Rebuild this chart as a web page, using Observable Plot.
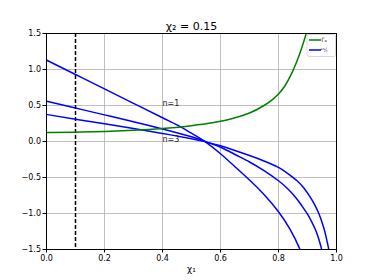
<!DOCTYPE html>
<html><head><meta charset="utf-8">
<script src="https://cdn.jsdelivr.net/npm/d3@7"></script>
<script src="https://cdn.jsdelivr.net/npm/@observablehq/plot@0.6"></script>
<style>body{margin:0;background:#fff;font-family:"DejaVu Sans",sans-serif}</style>
</head><body><div id="chart"></div>
<script>
const titleText = "χ₂ = 0.15";
const xLabel = "χ₁";
const xTicks = [0, 0.2, 0.4, 0.6, 0.8, 1.0];
const yTicks = [-1.5, -1.0, -0.5, 0.0, 0.5, 1.0, 1.5];
const dashedX = [0.1];

const greenX = [0, 0.1, 0.2, 0.3, 0.4, 0.5, 0.55, 0.6, 0.65, 0.7, 0.75, 0.78, 0.8, 0.82, 0.84, 0.86, 0.88, 0.9, 0.91];
const greenY = [0.125, 0.13, 0.14, 0.155, 0.18, 0.22, 0.245, 0.28, 0.33, 0.395, 0.5, 0.585, 0.66, 0.76, 0.9, 1.08, 1.3, 1.56, 1.72];

const n1X = [0, 0.1, 0.2, 0.3, 0.4, 0.45, 0.5, 0.548, 0.6, 0.65, 0.7, 0.75, 0.8, 0.84, 0.871, 0.89];
const n1Y = [1.13, 0.93, 0.73, 0.53, 0.33, 0.23, 0.115, -0.005, -0.17, -0.35, -0.535, -0.735, -0.975, -1.22, -1.47, -1.67];
const n2X = [0, 0.1, 0.2, 0.3, 0.4, 0.5, 0.55, 0.6, 0.65, 0.7, 0.75, 0.8, 0.83, 0.86, 0.88, 0.9, 0.915, 0.93, 0.94, 0.947, 0.955];
const n2Y = [0.56, 0.465, 0.37, 0.275, 0.175, 0.065, -0.005, -0.08, -0.18, -0.285, -0.405, -0.545, -0.65, -0.78, -0.89, -1.01, -1.12, -1.25, -1.37, -1.47, -1.62];
const n3X = [0, 0.1, 0.2, 0.3, 0.4, 0.5, 0.55, 0.6, 0.65, 0.7, 0.75, 0.8, 0.832, 0.864, 0.888, 0.91, 0.925, 0.939, 0.95, 0.959, 0.966, 0.972, 0.98];
const n3Y = [0.376, 0.31, 0.245, 0.18, 0.112, 0.038, -0.005, -0.06, -0.125, -0.195, -0.27, -0.36, -0.445, -0.545, -0.65, -0.775, -0.88, -1.0, -1.12, -1.24, -1.36, -1.47, -1.65];

const labels = [{x: 0.4, y: 0.5, t: "n=1"}, {x: 0.4, y: 0.0, t: "n=3"}];

const green = greenX.map((x, i) => ({x, y: greenY[i]}));
const blue = [
  ...n1X.map((x, i) => ({x, y: n1Y[i], n: 1})),
  ...n2X.map((x, i) => ({x, y: n2Y[i], n: 2})),
  ...n3X.map((x, i) => ({x, y: n3Y[i], n: 3}))
];

const plot = Plot.plot({
  width: 374, height: 280,
  marginLeft: 46, marginRight: 38, marginTop: 33, marginBottom: 31,
  style: {fontFamily: "DejaVu Sans", fontSize: "8px", color: "#000", background: "#fff"},
  x: {domain: [0, 1], ticks: xTicks, tickFormat: d3.format(".1f"), label: null},
  y: {domain: [-1.5, 1.5], ticks: yTicks, tickFormat: d3.format(".1f"), label: null},
  marks: [
    Plot.gridX(xTicks, {stroke: "#b0b0b0", strokeOpacity: 1, strokeWidth: 0.8}),
    Plot.gridY(yTicks, {stroke: "#b0b0b0", strokeOpacity: 1, strokeWidth: 0.8}),
    Plot.ruleX(dashedX, {stroke: "black", strokeWidth: 1.5, strokeDasharray: "4,2"}),
    Plot.line(blue, {x: "x", y: "y", z: "n", stroke: "blue", strokeWidth: 1.5, curve: "natural", clip: true}),
    Plot.line(green, {x: "x", y: "y", stroke: "green", strokeWidth: 1.5, curve: "natural", clip: true}),
    Plot.text(labels, {x: "x", y: "y", text: "t", textAnchor: "start", lineAnchor: "bottom", fontSize: 8, fill: "#222"}),
    Plot.frame({stroke: "black", strokeWidth: 1}),
    Plot.axisX(xTicks, {tickSize: 3.5, tickPadding: 2, fontSize: 8, label: null, tickFormat: d3.format(".1f")}),
    Plot.axisY(yTicks, {tickSize: 3.5, tickPadding: 2, fontSize: 8, label: null, tickFormat: d3.format(".1f")}),
    Plot.text([titleText], {frameAnchor: "top", lineAnchor: "bottom", dy: -4, fontSize: 11, fill: "#000"}),
    Plot.text([xLabel], {frameAnchor: "bottom", dy: 22, fontSize: 9, fill: "#000"})
  ]
});

// legend inside the frame, top-right
const svg = d3.select(plot);
const g = svg.append("g");
g.append("rect").attr("x", 307).attr("y", 34.5).attr("width", 28.5).attr("height", 22)
  .attr("rx", 2).attr("fill", "white").attr("fill-opacity", 0.85).attr("stroke", "#d0d0d0").attr("stroke-width", 0.8);
const leg = [{label: "Γₐ", color: "green", y: 40}, {label: "ᵃˢ⁄ₜ", color: "blue", y: 50}];
leg.forEach(d => {
  g.append("line").attr("x1", 309).attr("x2", 321).attr("y1", d.y).attr("y2", d.y)
    .attr("stroke", d.color).attr("stroke-width", 1.5);
  g.append("text").attr("x", 324).attr("y", d.y).attr("dy", "0.35em")
    .attr("font-size", 6).attr("font-family", "DejaVu Sans").attr("fill", "#333").text(d.label);
});

document.getElementById("chart").appendChild(plot);
</script></body></html>
